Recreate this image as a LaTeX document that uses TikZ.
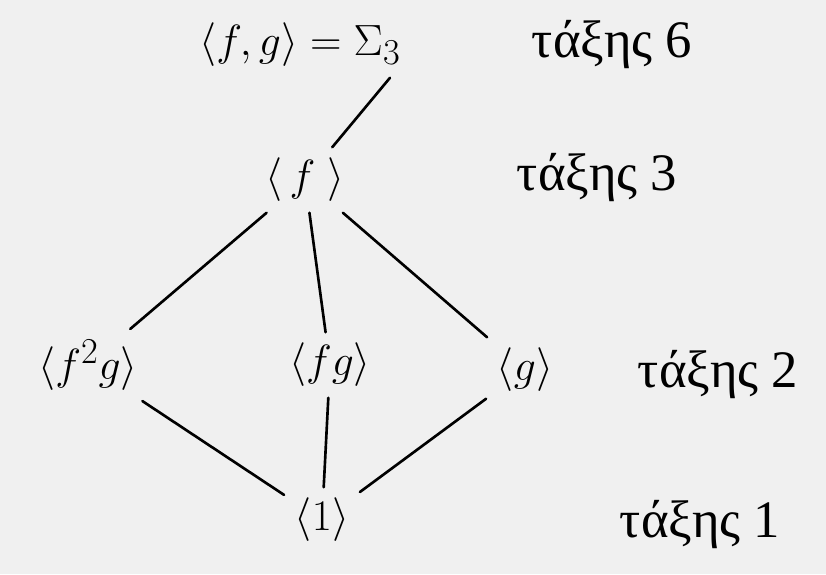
\documentclass[tikz,border=0pt]{standalone}
\usepackage{amsmath, amssymb}
\usepackage{fontspec}
\newfontfamily\greekfont{Liberation Serif}
\usepackage{tikz}

\begin{document}
\begin{tikzpicture}[every node/.style={font=\fontsize{32}{36}\selectfont, inner sep=6pt},
  order/.style={font=\greekfont\fontsize{30}{34}\selectfont},
  link/.style={line width=1.5pt, line cap=round}]
  \fill[black!6] (0,0) rectangle (16.52,-11.48);
  \useasboundingbox (0,0) rectangle (16.52,-11.48);
  % subgroups
  \node (s3) at (6.0,-0.9) {$\langle f, g\rangle = \Sigma_3$};
  \node (cf) at (6.1,-3.6) {$\langle\, f \;\rangle$};
  \node (cfg2) at (1.76,-7.3) {$\langle f^2 g\rangle$};
  \node (cfg) at (6.6,-7.3) {$\langle fg\rangle$};
  \node (cg) at (10.5,-7.4) {$\langle g\rangle$};
  \node (c1) at (6.44,-10.4) {$\langle 1\rangle$};
  % orders
  \node[order] (ord6) at (12.24,-0.9) {τάξης 6};
  \node[order] (ord3) at (11.94,-3.56) {τάξης 3};
  \node[order] (ord2) at (14.36,-7.5) {τάξης 2};
  \node[order] (ord1) at (14.0,-10.5) {τάξης 1};
  % lattice
  \draw[link] ([xshift=1.8cm]s3.south) -- (cf);
  \draw[link] (cf) -- (cfg2);
  \draw[link] (cf) -- (cfg);
  \draw[link] (cf) -- (cg);
  \draw[link] (cfg2) -- (c1);
  \draw[link] (cfg) -- (c1);
  \draw[link] (cg) -- (c1);
\end{tikzpicture}
\end{document}
